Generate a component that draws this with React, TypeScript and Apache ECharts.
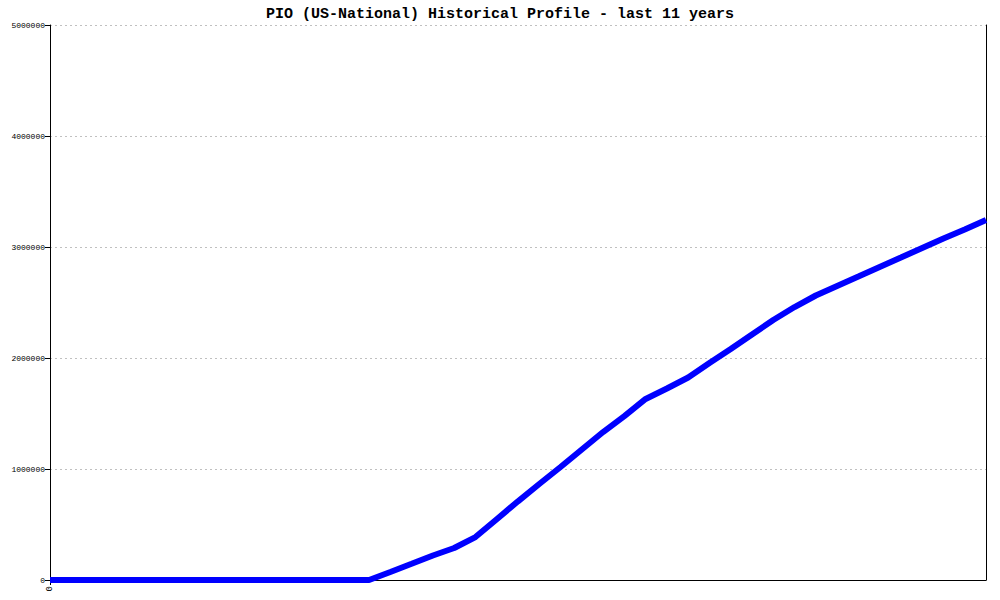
import React, { useEffect, useRef } from "react";
import * as echarts from "echarts";

const titleText = "PIO (US-National) Historical Profile - last 11 years";

// quarterly points over 11 years (index 0..44)
const quarters: string[] = Array.from({ length: 45 }, (_, i) => String(i));

const values: number[] = [
  0, 0, 0, 0, 0, 0, 0, 0, 0, 0, 0, 0, 0, 0, 0, 0,
  72000, 146000, 221000, 288000, 387000,
  548000, 709000, 865000, 1018000, 1176000, 1333000, 1477000, 1631000,
  1725000, 1824000, 1955000, 2081000, 2212000, 2342000,
  2459000, 2563000, 2649000, 2734000, 2820000, 2905000, 2991000,
  3077000, 3158000, 3243000,
];

const yTicks: number[] = [0, 1000000, 2000000, 3000000, 4000000, 5000000];

export default function App() {
  const ref = useRef<HTMLDivElement>(null);
  useEffect(() => {
    if (!ref.current) return;
    const chart = echarts.init(ref.current, null, { renderer: "svg" });
    chart.setOption({
      animation: false,
      backgroundColor: "#ffffff",
      title: {
        text: titleText,
        left: "center",
        top: 2,
        textStyle: {
          fontFamily: "Liberation Mono, DejaVu Sans Mono, monospace",
          fontSize: 15,
          fontWeight: "bold",
          color: "#000000",
        },
      },
      grid: { left: 50, right: 14, top: 25, bottom: 20, containLabel: false },
      xAxis: {
        type: "category",
        data: quarters,
        boundaryGap: false,
        axisLine: { show: true, lineStyle: { color: "#000000", width: 1 } },
        axisTick: {
          show: true,
          length: 5,
          interval: (idx: number) => idx === 0,
          lineStyle: { color: "#000000" },
        },
        axisLabel: {
          show: true,
          rotate: 90,
          interval: (idx: number) => idx === 0,
          fontFamily: "Liberation Mono, DejaVu Sans Mono, monospace",
          fontSize: 9,
          color: "#000000",
          margin: 6,
        },
        splitLine: { show: false },
      },
      yAxis: [
        {
          type: "value",
          min: yTicks[0],
          max: yTicks[yTicks.length - 1],
          interval: 1000000,
          axisLine: { show: true, lineStyle: { color: "#000000", width: 1 } },
          axisTick: { show: true, length: 5, lineStyle: { color: "#000000" } },
          axisLabel: {
            formatter: (v: number) => String(v),
            fontFamily: "Liberation Mono, DejaVu Sans Mono, monospace",
            fontSize: 8,
            color: "#000000",
            margin: 5,
          },
          splitLine: {
            show: true,
            lineStyle: { color: "#c0c0c0", type: [2, 3], width: 1 },
          },
        },
        {
          type: "value",
          position: "right",
          min: yTicks[0],
          max: yTicks[yTicks.length - 1],
          interval: 1000000,
          axisLine: { show: true, lineStyle: { color: "#000000", width: 1 } },
          axisTick: { show: false },
          axisLabel: { show: false },
          splitLine: { show: false },
        },
      ],
      series: [
        {
          type: "line",
          data: values,
          yAxisIndex: 0,
          showSymbol: false,
          symbol: "none",
          lineStyle: { color: "#0000ff", width: 6 },
          z: 5,
        },
      ],
    });
    return () => chart.dispose();
  }, []);
  return (
    <div
      ref={ref}
      style={{ position: "fixed", left: 0, top: 0, width: 1000, height: 600 }}
    />
  );
}
